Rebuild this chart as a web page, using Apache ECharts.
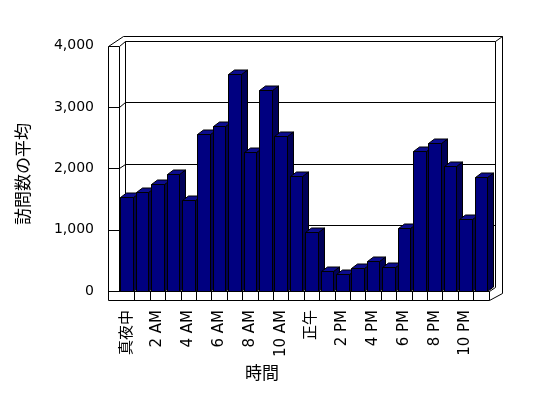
<!DOCTYPE html>
<html>
<head>
<meta charset="utf-8">
<script src="https://cdn.jsdelivr.net/npm/echarts@6/dist/echarts.min.js"></script>
<style>
html,body{margin:0;padding:0;background:#fff;}
#chart{width:548px;height:398px;}
</style>
</head>
<body>
<div id="chart"></div>
<script>
const categories = ['真夜中','1 AM','2 AM','3 AM','4 AM','5 AM','6 AM','7 AM','8 AM','9 AM','10 AM','11 AM',
  '正午','1 PM','2 PM','3 PM','4 PM','5 PM','6 PM','7 PM','8 PM','9 PM','10 PM','11 PM'];
const visits = [1533,1621,1740,1902,1480,2564,2683,3530,2260,3279,2531,1875,
  965,320,276,374,493,390,1024,2276,2417,2033,1171,1854];
const yMin = 0, yMax = 4000, yStep = 1000;
const yTitle = '訪問数の平均';
const xTitle = '時間';

const FONT = '"DejaVu Sans","Noto Sans CJK JP",sans-serif';
const DX = 6, DY = -4.5;          // 3D depth offset (style)
const WALL = 11, FLOOR = 9;       // wall / floor slab thickness (style)
const OUT_DX = 13, OUT_DY = -10;  // outer slab offset (style)

function px(v){ return Math.round(v) + 0.5; }
function line(x1,y1,x2,y2){
  return {type:'line', shape:{x1:px(x1),y1:px(y1),x2:px(x2),y2:px(y2)},
    style:{stroke:'#000',lineWidth:1}, silent:true};
}
function poly(points){
  return {type:'polyline', shape:{points:points.map(p=>[px(p[0]),px(p[1])])},
    style:{stroke:'#000',lineWidth:1,fill:null}, silent:true};
}

function renderFrame(params, api){
  const cs = params.coordSys;
  const L = cs.x, R = cs.x + cs.width, T = cs.y, B = cs.y + cs.height;
  const n = categories.length, w = cs.width / n;
  const ch = [];
  ch.push({type:'rect', shape:{x:L+DX,y:T+DY,width:R-L,height:B-T}, style:{fill:'#fff'}, silent:true});
  for (let v = yMin; v <= yMax; v += yStep){
    const y = api.coord([0, v])[1];
    ch.push(line(L-WALL, y, L, y));
    if (v > yMin){
      ch.push(poly([[L,y],[L+DX,y+DY],[R+DX,y+DY]]));
    }
  }
  ch.push(line(L-WALL, T, L-WALL, B+FLOOR));
  ch.push(line(L, T, L, B));
  ch.push(line(L+DX, T+DY, L+DX, B+DY));
  ch.push(line(R+DX, T+DY, R+DX, B+DY));
  ch.push(poly([[L-WALL,T],[L-WALL+OUT_DX+2,T+OUT_DY],[R+OUT_DX,T+OUT_DY],[R+OUT_DX,B+1.5],[R,B+FLOOR]]));
  ch.push(line(R+DX, T+DY, R+OUT_DX, T+OUT_DY));
  ch.push(line(L-WALL, B, R, B));
  ch.push(line(L-WALL, B+FLOOR, R, B+FLOOR));
  for (let k = 1; k <= n; k++){
    const x = L + k*w;
    ch.push(line(x, B, x, B+FLOOR));
  }
  ch.push(line(R, B, R+DX, B+DY));
  return {type:'group', children: ch};
}

function renderBar(params, api){
  const i = api.value(0), v = api.value(1);
  const top = api.coord([i, v]);
  const base = api.coord([i, 0]);
  const bw = api.size([1, 0])[0] * 0.81;
  const x0 = Math.round(top[0] - bw/2) + 0.5, x1 = Math.round(top[0] + bw/2) + 0.5;
  const yt = Math.round(top[1]) + 0.5, yb = Math.round(base[1]) + 0.5;
  const st = (fill)=>({fill:fill, stroke:'#000', lineWidth:1});
  return {type:'group', children:[
    {type:'polygon', shape:{points:[[x1,yt],[x1+DX,yt+DY],[x1+DX,yb+DY],[x1,yb]]}, style:st('#000058')},
    {type:'polygon', shape:{points:[[x0,yt],[x0+DX,yt+DY],[x1+DX,yt+DY],[x1,yt]]}, style:st('#0c0c8e')},
    {type:'rect', shape:{x:x0,y:yt,width:x1-x0,height:yb-yt}, style:st('#000080')}
  ]};
}

const chart = echarts.init(document.getElementById('chart'), null, {renderer:'canvas'});
chart.setOption({
  animation:false,
  backgroundColor:'#fff',
  grid:{left:119, right:59.4, top:45.5, bottom:107, containLabel:false},
  xAxis:{
    type:'category', data:categories, boundaryGap:true,
    axisLine:{show:false}, axisTick:{show:false}, splitLine:{show:false},
    axisLabel:{interval:1, rotate:90, margin:19, color:'#000', fontSize:15, fontFamily:FONT}
  },
  yAxis:{
    type:'value', min:yMin, max:yMax, interval:yStep,
    axisLine:{show:false}, axisTick:{show:false}, splitLine:{show:false},
    axisLabel:{margin:25, color:'#000', fontSize:14, fontFamily:FONT,
      formatter:(v)=>v.toLocaleString('en-US')}
  },
  graphic:[
    {type:'text', x:25, y:174, rotation:Math.PI/2,
      style:{text:yTitle, fill:'#000', font:'17px '+FONT, align:'center', verticalAlign:'middle'}},
    {type:'text', x:262, y:375,
      style:{text:xTitle, fill:'#000', font:'17px '+FONT, align:'center', verticalAlign:'middle'}}
  ],
  series:[
    {type:'custom', renderItem:renderFrame, data:[[0,0]], z:1, silent:true, clip:false},
    {type:'custom', renderItem:renderBar, data:visits.map((v,i)=>[i,v]),
      encode:{x:0,y:1}, z:2, clip:false}
  ]
});
</script>
</body>
</html>
